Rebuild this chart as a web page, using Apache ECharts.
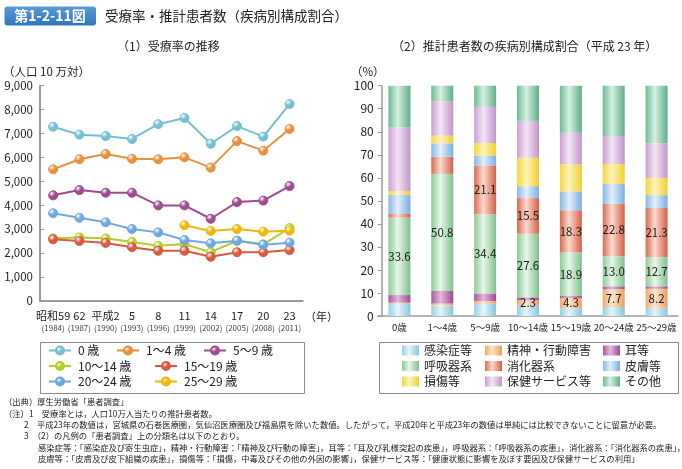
<!DOCTYPE html>
<html><head><meta charset="utf-8">
<script src="https://cdn.jsdelivr.net/npm/echarts@6/dist/echarts.min.js"></script>
<style>html,body{margin:0;padding:0;background:#fff}#c{width:682px;height:469px}</style>
</head><body><div id="c"></div>
<script>
// ---------- data ----------
const yearLabels = ['昭和59', '62', '平成2', '5', '8', '11', '14', '17', '20', '23'];
const yearsAD = ['1984', '1987', '1990', '1993', '1996', '1999', '2002', '2005', '2008', '2011'];
const lineNames = ['0 歳', '1～4 歳', '5～9 歳', '10～14 歳', '15～19 歳', '20～24 歳', '25～29 歳'];
const rate0 = [7280, 6950, 6890, 6770, 7390, 7650, 6570, 7310, 6870, 8230];
const rate1to4 = [5500, 5920, 6140, 5940, 5920, 6000, 5570, 6680, 6280, 7190];
const rate5to9 = [4410, 4630, 4520, 4520, 3990, 3990, 3430, 4130, 4190, 4800];
const rate10to14 = [2610, 2650, 2610, 2460, 2300, 2370, 2030, 2510, 2360, 3040];
const rate15to19 = [2570, 2500, 2420, 2240, 2090, 2090, 1840, 2030, 2030, 2120];
const rate20to24 = [3660, 3470, 3280, 3000, 2860, 2540, 2400, 2510, 2340, 2430];
const rate25to29 = [null, null, null, null, null, 3160, 2920, 3000, 2890, 2930];
const rateTicks = [0, 1000, 2000, 3000, 4000, 5000, 6000, 7000, 8000, 9000];

const ageGroups = ['0歳', '1～4歳', '5～9歳', '10～14歳', '15～19歳', '20～24歳', '25～29歳'];
const diseaseNames = ['感染症等', '精神・行動障害', '耳等', '呼吸器系', '消化器系', '皮膚等', '損傷等', '保健サービス等', 'その他'];
const infection = [5.3, 4.6, 5.3, 4.5, 3.5, 3.9, 3.6];
const mental = [0.5, 0.8, 1.2, 2.3, 4.3, 7.7, 8.2];
const ear = [3.3, 5.5, 3.3, 1.3, 0.9, 1.3, 1.1];
const respiratory = [33.6, 50.8, 34.4, 27.6, 18.9, 13.0, 12.7];
const digestive = [1.6, 7.5, 21.1, 15.5, 18.3, 22.8, 21.3];
const skin = [8.5, 5.8, 4.4, 5.2, 8.2, 8.6, 5.6];
const injury = [1.5, 3.3, 5.4, 12.3, 11.8, 8.7, 7.4];
const healthService = [27.5, 14.8, 15.7, 16.0, 13.7, 12.2, 15.1];
const other = [18.2, 6.9, 9.2, 15.3, 20.4, 21.8, 25.0];
const pctTicks = [0, 10, 20, 30, 40, 50, 60, 70, 80, 90, 100];

const notes = [
  '（出典）厚生労働省「患者調査」',
  '（注）1　受療率とは，人口10万人当たりの推計患者数。',
  '2　平成23年の数値は，宮城県の石巻医療圏，気仙沼医療圏及び福島県を除いた数値。したがって，平成20年と平成23年の数値は単純には比較できないことに留意が必要。',
  '3　（2）の凡例の「患者調査」上の分類名は以下のとおり。',
  '感染症等：「感染症及び寄生虫症」，精神・行動障害：「精神及び行動の障害」，耳等：「耳及び乳様突起の疾患」，呼吸器系：「呼吸器系の疾患」，消化器系：「消化器系の疾患」，',
  '皮膚等：「皮膚及び皮下組織の疾患」，損傷等：「損傷，中毒及びその他の外因の影響」，保健サービス等：「健康状態に影響を及ぼす要因及び保健サービスの利用」'
];

// ---------- styling ----------
const FONT = '"Noto Sans CJK JP","Noto Sans",sans-serif';
const lineColors = ['#74bfd3', '#e8903c', '#a04a90', '#b3cd2b', '#d95a3e', '#6fa7e0', '#f0b70a'];
const lineData = [rate0, rate1to4, rate5to9, rate10to14, rate15to19, rate20to24, rate25to29];
const barData = [infection, mental, ear, respiratory, digestive, skin, injury, healthService, other];
const barColors = [
  ['#93d1e1', '#e6f5f9', '#86c7d9'],
  ['#f0aa6b', '#fde5cf', '#eb9f5d'],
  ['#a9589e', '#e2badb', '#9c4b91'],
  ['#8bcb97', '#e8f6ea', '#7ec18b'],
  ['#da6a50', '#f9dbcf', '#d45f45'],
  ['#86b8e7', '#e4effb', '#7aaee0'],
  ['#f5d53e', '#fdf5bb', '#f2cd2c'],
  ['#c99fd2', '#f3e6f4', '#c194cb'],
  ['#6cbb93', '#d6f0e3', '#5eae87']
];
const labelMin = [null, 2, null, 0, 10, null, null, null, null];

function hgrad(c) {
  return { type: 'linear', x: 0, y: 0, x2: 1, y2: 0,
    colorStops: [{ offset: 0, color: c[0] }, { offset: 0.42, color: c[1] }, { offset: 1, color: c[2] }] };
}
function ball(c) {
  return { type: 'radial', x: 0.35, y: 0.3, r: 0.75,
    colorStops: [{ offset: 0, color: '#ffffff' }, { offset: 0.45, color: c }, { offset: 1, color: c }] };
}

const series = [];
lineNames.forEach((n, i) => {
  series.push({
    name: n, type: 'line', xAxisIndex: 0, yAxisIndex: 0,
    data: lineData[i].map(v => v === null ? '-' : v),
    symbol: 'circle', symbolSize: 9, showAllSymbol: true,
    lineStyle: { color: lineColors[i], width: 2 },
    itemStyle: { color: ball(lineColors[i]), borderColor: lineColors[i], borderWidth: 1 },
    emphasis: { disabled: true }, z: 2 + i
  });
});
diseaseNames.forEach((n, i) => {
  series.push({
    name: n, type: 'bar', xAxisIndex: 1, yAxisIndex: 1, stack: 'pct',
    data: barData[i], barWidth: 22,
    itemStyle: { color: hgrad(barColors[i]) },
    label: {
      show: labelMin[i] !== null, position: 'inside', color: '#1a1a1a',
      fontFamily: FONT, fontSize: 11.5,
      formatter: p => (labelMin[i] !== null && p.value >= labelMin[i]) ? p.value.toFixed(1) : ''
    },
    emphasis: { disabled: true }
  });
});

// legends (one per item for exact placement)
const legends = [];
const leftLegPos = [[48, 352.5], [116, 352.5], [203, 352.5], [48, 368], [154, 368], [48, 383.5], [154, 383.5]];
lineNames.forEach((n, i) => {
  legends.push({ data: [n], left: leftLegPos[i][0], top: leftLegPos[i][1] - 8, padding: 0,
    itemWidth: 22, itemHeight: 10, itemGap: 0, selectedMode: false,
    textStyle: { fontFamily: FONT, fontSize: 12, color: '#222', padding: [0, 0, 0, 2] } });
});
const rightLegX = [402, 485, 603];
const rightLegY = [352.5, 368, 383.5];
diseaseNames.forEach((n, i) => {
  legends.push({ data: [n], left: rightLegX[i % 3], top: rightLegY[Math.floor(i / 3)] - 8, padding: 0,
    itemWidth: 17, itemHeight: 10, itemGap: 0, selectedMode: false, icon: 'rect',
    textStyle: { fontFamily: FONT, fontSize: 12, color: '#222' } });
});

const axisGray = '#9a9a9a';
const option = {
  animation: false,
  textStyle: { fontFamily: FONT },
  grid: [
    { left: 40, top: 85.7, width: 262.7, height: 215 },
    { left: 378, top: 85.7, width: 300, height: 230.3 }
  ],
  legend: legends,
  xAxis: [
    { type: 'category', gridIndex: 0, data: yearLabels, boundaryGap: true,
      axisLine: { lineStyle: { color: axisGray, width: 2 } },
      axisTick: { inside: true, length: 5, lineStyle: { color: axisGray, width: 1 } },
      axisLabel: { margin: 9, interval: 0,
        formatter: (v, i) => '{a|' + v + '}\n{b|(' + yearsAD[i] + ')}',
        rich: { a: { fontSize: 11, lineHeight: 13, color: '#222', fontFamily: FONT },
                b: { fontSize: 8, lineHeight: 11, color: '#444', fontFamily: FONT } } } },
    { type: 'category', gridIndex: 1, data: ageGroups, boundaryGap: true,
      axisLine: { lineStyle: { color: axisGray, width: 1.5 } },
      axisTick: { inside: true, length: 5, lineStyle: { color: axisGray } },
      axisLabel: { margin: 7, interval: 0, fontSize: 9.5, color: '#222', fontFamily: FONT } }
  ],
  yAxis: [
    { type: 'value', gridIndex: 0, min: rateTicks[0], max: rateTicks[rateTicks.length - 1], interval: 1000,
      splitLine: { show: false },
      axisLine: { show: true, lineStyle: { color: axisGray, width: 2 } },
      axisTick: { show: true, inside: true, length: 4, lineStyle: { color: axisGray } },
      axisLabel: { margin: 7, fontSize: 11.5, color: '#222', fontFamily: FONT,
        formatter: v => v.toLocaleString('en-US') } },
    { type: 'value', gridIndex: 1, min: pctTicks[0], max: pctTicks[pctTicks.length - 1], interval: 10,
      offset: -3.7,
      splitLine: { show: false },
      axisLine: { show: true, lineStyle: { color: axisGray, width: 1.5 } },
      axisTick: { show: true, inside: false, length: 4, lineStyle: { color: axisGray } },
      axisLabel: { margin: 8, fontSize: 12, color: '#222', fontFamily: FONT } }
  ],
  series: series,
  graphic: [
    { type: 'rect', shape: { x: 4.5, y: 6.5, width: 91.5, height: 19, r: 3 },
      style: { fill: { type: 'linear', x: 0, y: 0, x2: 0, y2: 1,
        colorStops: [{ offset: 0, color: '#5a9ad6' }, { offset: 1, color: '#2f74bb' }] } } },
    { type: 'text', x: 50, y: 16, style: { text: '第1-2-11図', fill: '#fff', font: 'bold 14px ' + FONT, align: 'center', verticalAlign: 'middle' } },
    { type: 'text', x: 105, y: 16, style: { text: '受療率・推計患者数（疾病別構成割合）', fill: '#222', font: '13.5px ' + FONT, verticalAlign: 'middle' } },
    { type: 'text', x: 117, y: 46.5, style: { text: '（1）受療率の推移', fill: '#222', font: '12px ' + FONT, verticalAlign: 'middle' } },
    { type: 'text', x: 392, y: 46.5, style: { text: '（2）推計患者数の疾病別構成割合（平成 23 年）', fill: '#222', font: '12px ' + FONT, verticalAlign: 'middle' } },
    { type: 'text', x: 3, y: 71.7, style: { text: '（人口 10 万対）', fill: '#222', font: '11.5px ' + FONT, verticalAlign: 'middle' } },
    { type: 'text', x: 351, y: 71.7, style: { text: '（%）', fill: '#222', font: '11.5px ' + FONT, verticalAlign: 'middle' } },
    { type: 'text', x: 305, y: 316.7, style: { text: '（年）', fill: '#222', font: '11px ' + FONT, verticalAlign: 'middle' } },
    { type: 'rect', shape: { x: 40.5, y: 342.5, width: 264, height: 51 }, style: { fill: 'none', stroke: '#8a8a8a', lineWidth: 1 } },
    { type: 'rect', shape: { x: 379.5, y: 342.5, width: 299, height: 51 }, style: { fill: 'none', stroke: '#8a8a8a', lineWidth: 1 } }
  ].concat(notes.map((t, i) => ({
    type: 'text', x: [4, 4, 24, 24, 38, 38][i], y: 402 + i * 11.4,
    style: { text: t, fill: '#222', font: '8.3px ' + FONT, verticalAlign: 'middle' }
  })))
};
const chart = echarts.init(document.getElementById('c'), null, { renderer: 'canvas' });
chart.setOption(option);
</script></body></html>
